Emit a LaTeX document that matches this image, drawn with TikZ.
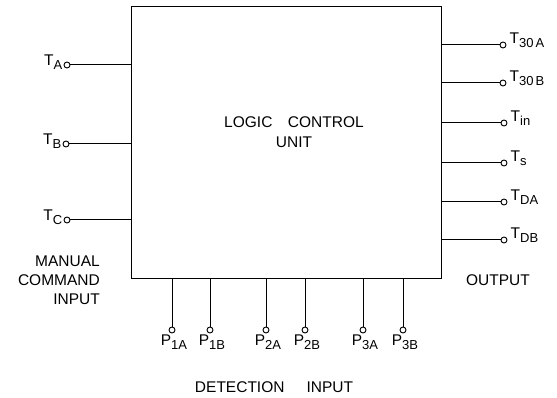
\documentclass[tikz,border=0pt]{standalone}
\usepackage{fontspec}
\setmainfont{Liberation Sans}
\usepackage{tikz}
\newcommand{\sublab}[2]{#1\raisebox{-0.55ex}{\fontsize{13}{13}\selectfont #2}}

\begin{document}
\begin{tikzpicture}[x=1pt,y=1pt,yscale=-1,xscale=1,
  pin/.style={circle, draw, fill=white, inner sep=0pt, minimum size=6, line width=0.9},
  lab/.style={font=\fontsize{15.5}{19}\selectfont, inner sep=1},
  wire/.style={line width=1}]
\useasboundingbox (0,0) rectangle (557,398);
\node [draw, line width=1.4, minimum width=310, minimum height=272, anchor=north west] (unit) at (131,6) {};
\node [lab, align=center] (title) at (294,132) {LOGIC\quad CONTROL\\[1pt]UNIT};
% manual command inputs
\node [pin] (tA) at (67,65) {};
\node [pin] (tB) at (66,144) {};
\node [pin] (tC) at (67,220) {};
\draw [wire] (tA) -- (tA -| unit.west);
\draw [wire] (tB) -- (tB -| unit.west);
\draw [wire] (tC) -- (tC -| unit.west);
\node [lab, anchor=east] (labA) at ([yshift=-3]tA.west) {\sublab{T}{A}};
\node [lab, anchor=east] (labB) at ([yshift=-3]tB.west) {\sublab{T}{B}};
\node [lab, anchor=east] (labC) at ([yshift=-3]tC.west) {\sublab{T}{C}};
\node [lab, align=right, anchor=north east] (manual) at (101,255) {MANUAL\\COMMAND\\INPUT};
% outputs
\node [pin] (t30a) at (503,45) {};
\node [pin] (t30b) at (503,83) {};
\node [pin] (tin) at (504,123) {};
\node [pin] (ts) at (504,163) {};
\node [pin] (tda) at (504,202) {};
\node [pin] (tdb) at (504,240) {};
\draw [wire] (t30a) -- (t30a -| unit.east);
\draw [wire] (t30b) -- (t30b -| unit.east);
\draw [wire] (tin) -- (tin -| unit.east);
\draw [wire] (ts) -- (ts -| unit.east);
\draw [wire] (tda) -- (tda -| unit.east);
\draw [wire] (tdb) -- (tdb -| unit.east);
\node [lab, anchor=west] (lab30a) at ([xshift=2,yshift=-5]t30a.east) {\sublab{T}{30\,A}};
\node [lab, anchor=west] (lab30b) at ([xshift=2,yshift=-5]t30b.east) {\sublab{T}{30\,B}};
\node [lab, anchor=west] (labin) at ([xshift=2,yshift=-5]tin.east) {\sublab{T}{in}};
\node [lab, anchor=west] (labs) at ([xshift=2,yshift=-5]ts.east) {\sublab{T}{s}};
\node [lab, anchor=west] (labda) at ([xshift=2,yshift=-5]tda.east) {\sublab{T}{DA}};
\node [lab, anchor=west] (labdb) at ([xshift=2,yshift=-5]tdb.east) {\sublab{T}{DB}};
\node [lab] (output) at (498,280) {OUTPUT};
% detection inputs
\node [pin] (p1a) at (172,330) {};
\node [pin] (p1b) at (210,330) {};
\node [pin] (p2a) at (266,330) {};
\node [pin] (p2b) at (305,330) {};
\node [pin] (p3a) at (363,330) {};
\node [pin] (p3b) at (403,330) {};
\draw [wire] (p1a) -- (p1a |- unit.south);
\draw [wire] (p1b) -- (p1b |- unit.south);
\draw [wire] (p2a) -- (p2a |- unit.south);
\draw [wire] (p2b) -- (p2b |- unit.south);
\draw [wire] (p3a) -- (p3a |- unit.south);
\draw [wire] (p3b) -- (p3b |- unit.south);
\node [lab, anchor=north] (lab1a) at ([xshift=2]p1a.south) {\sublab{P}{1A}};
\node [lab, anchor=north] (lab1b) at ([xshift=2]p1b.south) {\sublab{P}{1B}};
\node [lab, anchor=north] (lab2a) at ([xshift=2]p2a.south) {\sublab{P}{2A}};
\node [lab, anchor=north] (lab2b) at ([xshift=2]p2b.south) {\sublab{P}{2B}};
\node [lab, anchor=north] (lab3a) at ([xshift=2]p3a.south) {\sublab{P}{3A}};
\node [lab, anchor=north] (lab3b) at ([xshift=2]p3b.south) {\sublab{P}{3B}};
\node [lab] (detection) at (274,387) {DETECTION\hspace{22pt}INPUT};
\end{tikzpicture}
\end{document}
